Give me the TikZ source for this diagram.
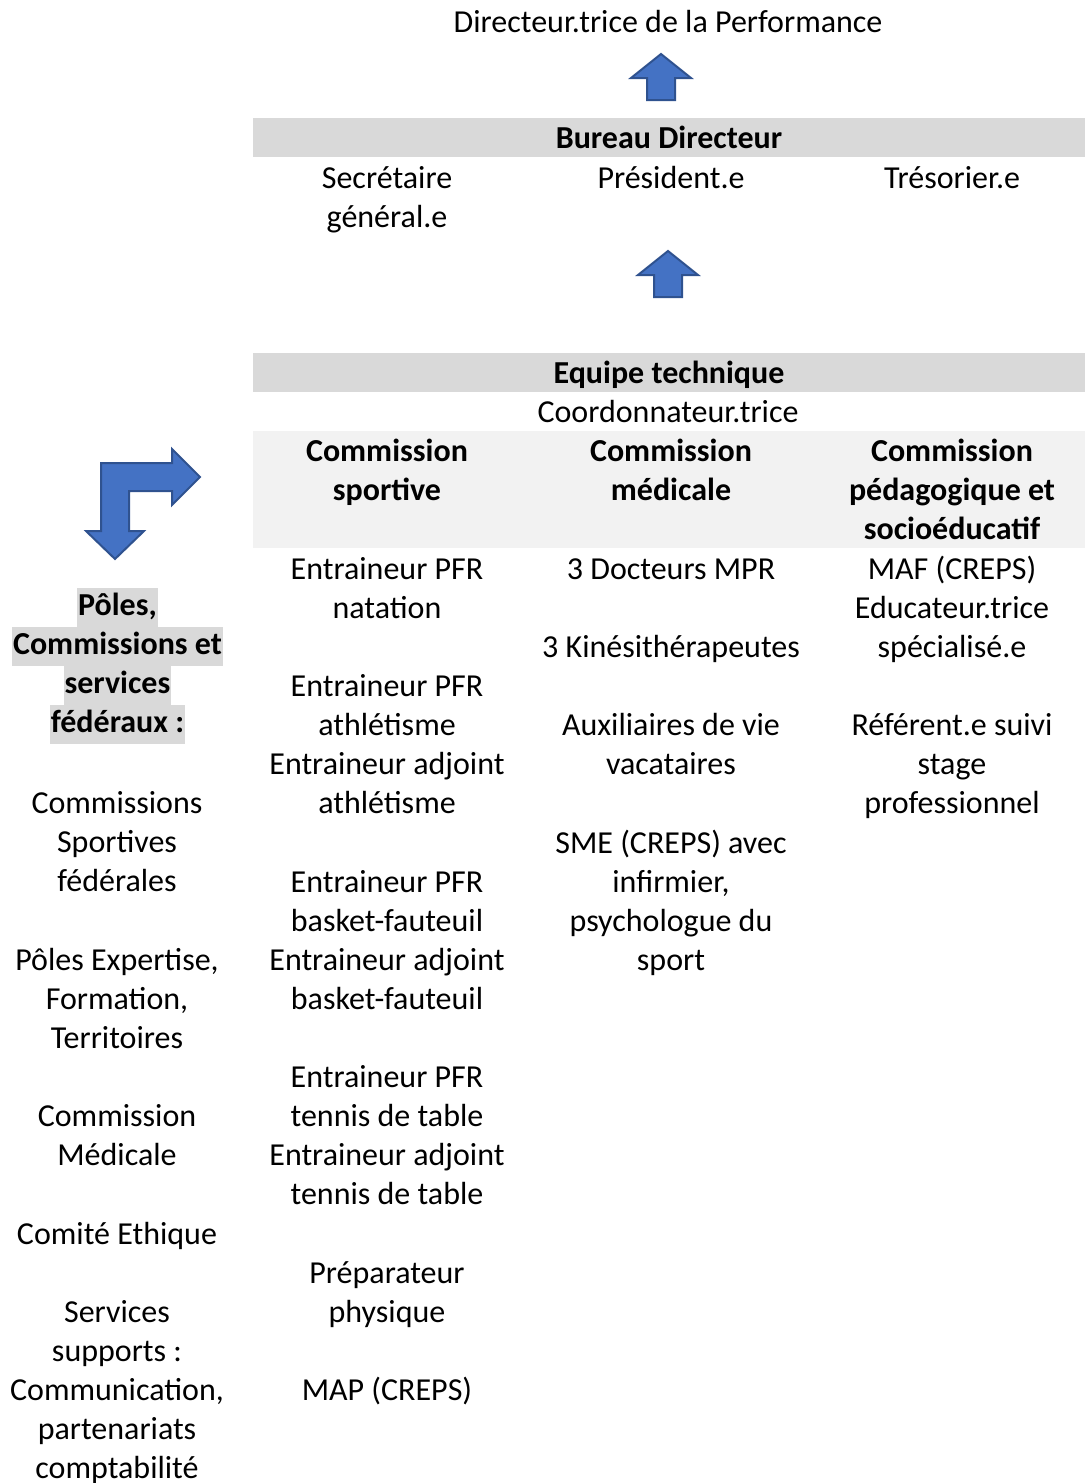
\documentclass[tikz,border=0pt]{standalone}
\usepackage{fontspec}
\setmainfont{Carlito}
\definecolor{arrowfill}{HTML}{4472C4}
\definecolor{arrowline}{HTML}{2F528F}
\definecolor{barA}{HTML}{D9D9D9}
\definecolor{barB}{HTML}{F2F2F2}
\begin{document}
\begin{tikzpicture}[x=1pt,y=-1pt,
  txt/.style={align=center,inner sep=0pt,anchor=base,font=\fontsize{32}{39.1}\selectfont},
  hdr/.style={align=center,inner sep=0pt,anchor=base,font=\fontsize{32}{39.1}\selectfont\bfseries},
  bar/.style={fill=#1,inner sep=0pt,anchor=north west,minimum width=832,minimum height=39.1},
  hl/.style={fill=barA,inner xsep=1pt,inner ysep=0pt,minimum height=39.1,text height=23,text depth=7,font=\fontsize{32}{39.1}\selectfont\bfseries},
  blockarrow/.style={fill=arrowfill,draw=arrowline,line width=2pt,line join=miter}]
\useasboundingbox (0,0) rectangle (1085,1483);

% title
\node[txt] (dir) at (668,32) {Directeur.trice de la Performance};
% up arrow 1
\draw[blockarrow] (661,54) -- (691,78) -- (675,78) -- (675,100) -- (647,100) -- (647,78) -- (631,78) -- cycle;

% Bureau directeur
\node[bar=barA] (bdbar) at (253,118) {};
\node[hdr] (bd) at (669,148) {Bureau Directeur};
\node[txt] (sec) at (387,227.1) {Secrétaire\\général.e};
\node[txt] (pres) at (671,188) {Président.e};
\node[txt] (tres) at (952,188) {Trésorier.e};

% up arrow 2
\draw[blockarrow] (668,251) -- (698,275) -- (682,275) -- (682,297) -- (654,297) -- (654,275) -- (638,275) -- cycle;

% Equipe technique
\node[bar=barA] (etbar) at (253,353) {};
\node[hdr] (et) at (669,383) {Equipe technique};
\node[txt] (coord) at (668,422) {Coordonnateur.trice};
\node[bar=barB,minimum height=117] (combar) at (253,431) {};
\node[hdr] (c1) at (387,500.1) {Commission\\sportive};
\node[hdr] (c2) at (671,500.1) {Commission\\médicale};
\node[hdr] (c3) at (952,539.2) {Commission\\pédagogique et\\socioéducatif};

% bent arrow
\draw[blockarrow] (101,463) -- (172,463) -- (172,449) -- (200,477) -- (172,505) -- (172,491) -- (129,491) -- (129,531) -- (144,531) -- (115,559) -- (86,531) -- (101,531) -- cycle;

% left column
\node[hl] (p1) at (117.5,607.5) {Pôles,};
\node[hl] (p2) at (117.5,646.6) {Commissions et};
\node[hl] (p3) at (117.5,685.7) {services};
\node[hl] (p4) at (117.5,724.8) {fédéraux :};
\node[txt] (l1) at (117,891.2) {Commissions\\Sportives\\fédérales};
\node[txt] (l2) at (117,1048.2) {Pôles Expertise,\\Formation,\\Territoires};
\node[txt] (l3) at (117,1165.1) {Commission\\Médicale};
\node[txt] (l4) at (117,1244) {Comité Ethique};
\node[txt] (l5) at (117,1478.4) {Services\\supports :\\Communication,\\partenariats\\comptabilité};

% column sportive
\node[txt] (s1) at (387,618.1) {Entraineur PFR\\natation};
\node[txt] (s2) at (387,813.3) {Entraineur PFR\\athlétisme\\Entraineur adjoint\\athlétisme};
\node[txt] (s3) at (387,1009.3) {Entraineur PFR\\basket-fauteuil\\Entraineur adjoint\\basket-fauteuil};
\node[txt] (s4) at (387,1204.3) {Entraineur PFR\\tennis de table\\Entraineur adjoint\\tennis de table};
\node[txt] (s5) at (387,1322.1) {Préparateur\\physique};
\node[txt] (s6) at (387,1400) {MAP (CREPS)};

% column medicale
\node[txt] (m1) at (671,579) {3 Docteurs MPR};
\node[txt] (m2) at (671,657) {3 Kinésithérapeutes};
\node[txt] (m3) at (671,774.1) {Auxiliaires de vie\\vacataires};
\node[txt] (m4) at (671,970.3) {SME (CREPS) avec\\infirmier,\\psychologue du\\sport};

% column pedagogique
\node[txt] (e1) at (952,657.2) {MAF (CREPS)\\Educateur.trice\\spécialisé.e};
\node[txt] (e2) at (952,813.2) {Référent.e suivi\\stage\\professionnel};
\end{tikzpicture}
\end{document}
